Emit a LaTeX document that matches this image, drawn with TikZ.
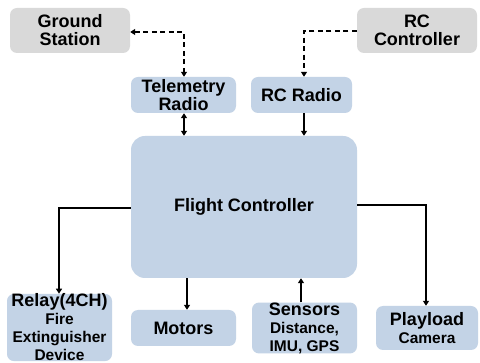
\documentclass[tikz,border=0pt]{standalone}
\usepackage{fontspec}
\setmainfont{Liberation Sans}
\usetikzlibrary{arrows.meta}
\definecolor{boxblue}{HTML}{C3D3E6}
\definecolor{boxgray}{HTML}{D9D9D9}
\begin{document}
\begin{tikzpicture}[x=1pt,y=-1pt,
  bluebox/.style={fill=boxblue,rounded corners=7pt,inner sep=0pt,align=center,font=\bfseries\fontsize{18}{18}\selectfont},
  graybox/.style={fill=boxgray,rounded corners=7pt,inner sep=0pt,align=center,font=\bfseries\fontsize{18}{18}\selectfont},
  conn/.style={line width=1.4pt,-{Triangle[width=6pt,length=5pt]}},
  dconn/.style={conn,dash pattern=on 5pt off 3.5pt}]
\useasboundingbox (0,0) rectangle (480,363);
\fill[white] (0,0) rectangle (480,363);
\node[graybox,minimum width=120pt,minimum height=45pt] (gs) at (70,30.5) {Ground\\Station};
\node[graybox,minimum width=120pt,minimum height=45pt] (rcc) at (417,30.5) {RC\\Controller};
\node[bluebox,minimum width=105pt,minimum height=36pt] (tel) at (183.5,95) {Telemetry\\Radio};
\node[bluebox,minimum width=101pt,minimum height=36pt] (rcr) at (301.5,95) {RC Radio};
\node[bluebox,minimum width=226pt,minimum height=142pt,rounded corners=14pt] (fc) at (244,207) {Flight Controller};
\node[bluebox,minimum width=105pt,minimum height=65pt] (relay) at (59.5,327.5) {Relay(4CH)\\{\fontsize{15.5}{15.5}\selectfont Fire}\\{\fontsize{15.5}{15.5}\selectfont Extinguisher}\\{\fontsize{15.5}{15.5}\selectfont Device}};
\node[bluebox,minimum width=105pt,minimum height=36pt] (mot) at (183.5,328) {Motors};
\node[bluebox,minimum width=105pt,minimum height=50pt] (sen) at (304.5,328) {Sensors\\{\fontsize{15.5}{16}\selectfont Distance,}\\{\fontsize{15.5}{16}\selectfont IMU, GPS}};
\node[bluebox,minimum width=102pt,minimum height=44pt] (pay) at (427,328) {Playload\\{\fontsize{15.5}{16}\selectfont Camera}};
% connectors
\coordinate (c1) at (184,32);
\coordinate (c2) at (304,31);
\draw[dconn,{Triangle[width=6pt,length=5pt]}-{Triangle[width=6pt,length=5pt]}] (gs.east |- c1) -- (c1) -- (c1 |- tel.north);
\draw[dconn] (rcc.west |- c2) -- (c2) -- (c2 |- rcr.north);
\draw[conn,{Triangle[width=6pt,length=5pt]}-{Triangle[width=6pt,length=5pt]}] (184,0 |- tel.south) -- (184,0 |- fc.north);
\draw[conn] (304,0 |- rcr.south) -- (304,0 |- fc.north);
\coordinate (l1) at (59,208);
\coordinate (r1) at (426,205);
\draw[conn] (fc.west |- l1) -- (l1) -- (l1 |- relay.north);
\draw[conn] (fc.east |- r1) -- (r1) -- (r1 |- pay.north);
\draw[conn] (187,0 |- fc.south) -- (187,0 |- mot.north);
\draw[conn] (301,0 |- sen.north) -- (301,0 |- fc.south);
\end{tikzpicture}
\end{document}
